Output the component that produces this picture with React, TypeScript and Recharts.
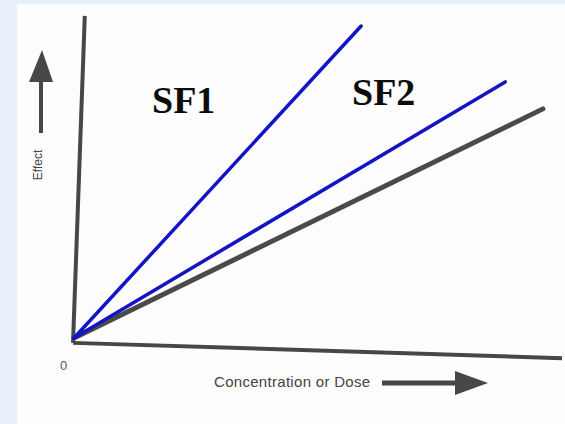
import { LineChart, Line, XAxis, YAxis, ReferenceLine } from "recharts";

// dose (x) and effect (y) on a 0-100 scale, lines start at the origin
const sf1Dose = [0, 58.6];
const sf1Effect = [0, 96.0];
const sf2Dose = [0, 88.0];
const sf2Effect = [0, 78.8];
const baseDose = [0, 95.7];
const baseEffect = [0, 70.5];

// hand-drawn axis ends (the scan is slightly tilted)
const yAxisEnds = [
  { x: -0.2, y: -1.5 },
  { x: 2.2, y: 99.1 },
];
const xAxisEnds = [
  { x: -0.2, y: -1.5 },
  { x: 99.6, y: -6.2 },
];

const seriesLabels = ["SF1", "SF2"];
const xTitle = "Concentration or Dose";
const yTitle = "Effect";
const originLabel = "0";

const toRows = (dose: number[], effect: number[]) =>
  dose.map((d, i) => ({ dose: d, effect: effect[i] }));

const sf1 = toRows(sf1Dose, sf1Effect);
const sf2 = toRows(sf2Dose, sf2Effect);
const base = toRows(baseDose, baseEffect);

const AXIS = "#474747";
const BLUE = "#1414c4";

export default function App() {
  return (
    <div
      style={{
        position: "absolute",
        left: 0,
        top: 0,
        width: 565,
        height: 424,
        background: "#e7effa",
        overflow: "hidden",
      }}
    >
      <div
        style={{
          position: "absolute",
          left: 17,
          top: 4,
          right: 0,
          bottom: 0,
          background: "#fdfdfd",
        }}
      />
      <div style={{ position: "absolute", left: 0, top: 0 }}>
        <LineChart
          width={565}
          height={424}
          margin={{ top: 13, right: 1, bottom: 86, left: 74 }}
        >
          <XAxis dataKey="dose" type="number" domain={[0, 100]} hide />
          <YAxis type="number" domain={[0, 100]} hide />
          <ReferenceLine
            segment={yAxisEnds}
            stroke={AXIS}
            strokeWidth={4}
            ifOverflow="visible"
          />
          <ReferenceLine
            segment={xAxisEnds}
            stroke={AXIS}
            strokeWidth={4}
            ifOverflow="visible"
          />
          <Line
            data={base}
            dataKey="effect"
            stroke="#4a4a4a"
            strokeWidth={5}
            dot={false}
            strokeLinecap="round"
            isAnimationActive={false}
          />
          <Line
            data={sf2}
            dataKey="effect"
            stroke={BLUE}
            strokeWidth={3.5}
            dot={false}
            strokeLinecap="round"
            isAnimationActive={false}
          />
          <Line
            data={sf1}
            dataKey="effect"
            stroke={BLUE}
            strokeWidth={3.5}
            dot={false}
            strokeLinecap="round"
            isAnimationActive={false}
          />
        </LineChart>
      </div>
      <svg
        width={565}
        height={424}
        style={{ position: "absolute", left: 0, top: 0 }}
      >
        <g fontFamily="'Liberation Serif', 'Times New Roman', serif" fontWeight="bold" fontSize={38} fill="#0d0d0d">
          <text x={152} y={113}>{seriesLabels[0]}</text>
          <text x={352} y={105}>{seriesLabels[1]}</text>
        </g>
        {/* y arrow */}
        <line x1={41} y1={133} x2={41} y2={80} stroke={AXIS} strokeWidth={4} />
        <polygon points="29,82 53,82 42,50" fill={AXIS} />
        <text
          x={42}
          y={165}
          transform="rotate(-90 42 165)"
          textAnchor="middle"
          fontFamily="'Liberation Sans', Arial, sans-serif"
          fontSize={12}
          fill="#444"
        >
          {yTitle}
        </text>
        {/* x arrow */}
        <line x1={382} y1={383} x2={458} y2={383} stroke={AXIS} strokeWidth={5} />
        <polygon points="455,371 455,395 488,383" fill={AXIS} />
        <text
          x={214}
          y={387}
          fontFamily="'Liberation Sans', Arial, sans-serif"
          fontSize={15}
          letterSpacing={0.3}
          fill="#444"
        >
          {xTitle}
        </text>
        <text
          x={60}
          y={370}
          fontFamily="'Liberation Sans', Arial, sans-serif"
          fontSize={13}
          fill="#555"
        >
          {originLabel}
        </text>
      </svg>
    </div>
  );
}
